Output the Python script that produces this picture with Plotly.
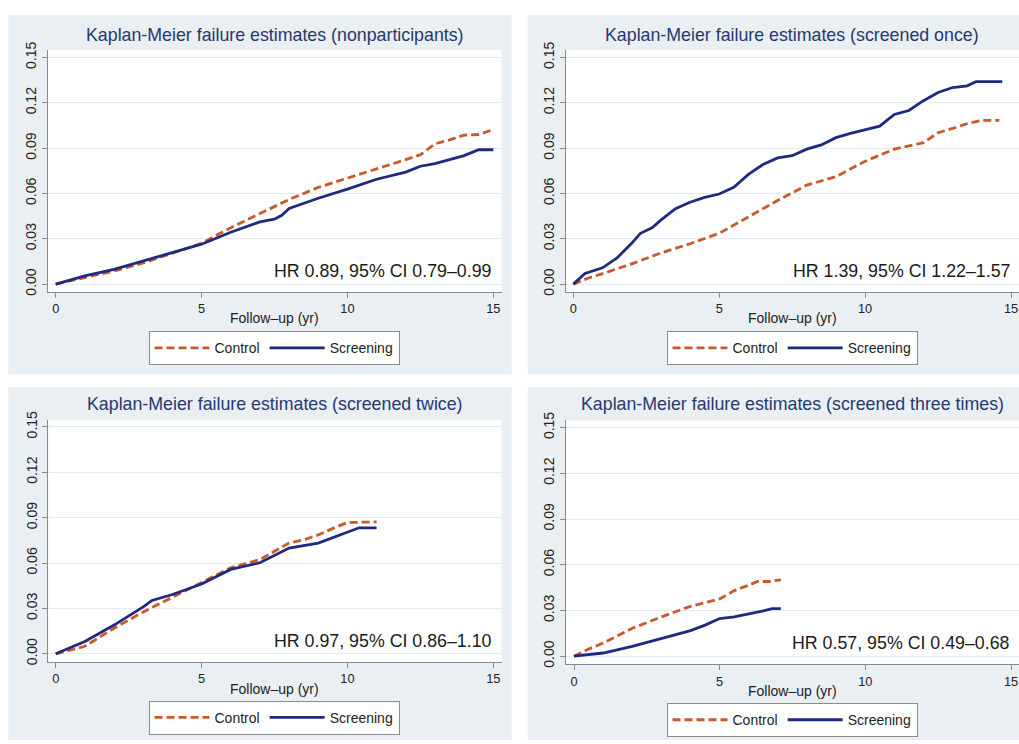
import plotly.graph_objects as go

W, H = 1019, 744

# ---- data: cumulative failure (Kaplan-Meier) by follow-up year ----
panel_titles = [
    "Kaplan-Meier failure estimates (nonparticipants)",
    "Kaplan-Meier failure estimates (screened once)",
    "Kaplan-Meier failure estimates (screened twice)",
    "Kaplan-Meier failure estimates (screened three times)",
]
hr_labels = [
    "HR 0.89, 95% CI 0.79\u20130.99",
    "HR 1.39, 95% CI 1.22\u20131.57",
    "HR 0.97, 95% CI 0.86\u20131.10",
    "HR 0.57, 95% CI 0.49\u20130.68",
]

nonpart_ctrl_t = [0, 1, 2, 3, 4, 5, 6, 7, 8, 9, 10, 11, 12, 12.5, 13, 13.5, 14, 14.5, 15]
nonpart_ctrl_f = [0, 0.0043, 0.0087, 0.014, 0.0206, 0.027, 0.0373, 0.0466, 0.056, 0.064,
                  0.070, 0.0763, 0.0824, 0.0856, 0.0928, 0.0954, 0.0986, 0.099, 0.1023]
nonpart_scr_t = [0, 1, 2, 3, 4, 5, 6, 7, 7.5, 7.75, 8, 9, 10, 11, 12, 12.5, 13, 14, 14.5, 15]
nonpart_scr_f = [0, 0.0054, 0.0098, 0.0152, 0.0206, 0.0264, 0.0343, 0.0412, 0.043, 0.0455,
                 0.050, 0.0568, 0.0629, 0.0694, 0.0741, 0.078, 0.0798, 0.085, 0.0889, 0.0889]

once_ctrl_t = [0, 0.5, 1, 2, 3, 4, 5, 6, 7, 8, 9, 10, 11, 12, 12.5, 13, 13.5, 14, 14.6]
once_ctrl_f = [0, 0.0039, 0.0069, 0.0134, 0.0206, 0.0267, 0.0336, 0.0444, 0.0553, 0.0655,
               0.0711, 0.0813, 0.0893, 0.0936, 0.1002, 0.103, 0.1062, 0.1084, 0.1084]
once_scr_t = [0, 0.4, 1, 1.5, 2, 2.3, 2.7, 3, 3.5, 4, 4.5, 5, 5.5, 6, 6.5, 7, 7.5, 8, 8.5,
              9, 9.5, 10, 10.5, 11, 11.5, 12, 12.5, 13, 13.5, 13.8, 14.7]
once_scr_f = [0, 0.007, 0.0108, 0.0173, 0.027, 0.0336, 0.0373, 0.0423, 0.0499, 0.0542,
              0.0574, 0.0596, 0.064, 0.0726, 0.0791, 0.0835, 0.085, 0.0893, 0.0921,
              0.0969, 0.0997, 0.1019, 0.1045, 0.1123, 0.1149, 0.1214, 0.1268, 0.1301,
              0.1312, 0.134, 0.134]

twice_ctrl_t = [0, 1, 2, 3, 4, 5, 6, 7, 8, 8.5, 9, 9.5, 10, 11]
twice_ctrl_f = [0, 0.005, 0.0169, 0.0277, 0.0374, 0.0472, 0.0569, 0.0623, 0.0732, 0.0753,
                0.0786, 0.0829, 0.0868, 0.0872]
twice_scr_t = [0, 1, 2, 3, 3.3, 4, 5, 6, 7, 8, 9, 9.5, 10, 10.4, 11]
twice_scr_f = [0, 0.0082, 0.019, 0.031, 0.0353, 0.0392, 0.0461, 0.0558, 0.0602, 0.0699,
               0.0732, 0.0768, 0.0801, 0.0833, 0.0833]

thrice_ctrl_t = [0, 0.5, 1, 2, 3, 4, 5, 5.5, 6, 6.3, 6.7, 7.1]
thrice_ctrl_f = [0, 0.0047, 0.0086, 0.0183, 0.0258, 0.0327, 0.0376, 0.043, 0.0466, 0.049,
                 0.049, 0.0501]
thrice_scr_t = [0, 1, 2, 3, 4, 4.5, 5, 5.5, 6, 6.5, 6.8, 7.1]
thrice_scr_f = [0, 0.0021, 0.0064, 0.0118, 0.0168, 0.0204, 0.0247, 0.0258, 0.0275, 0.0297,
                0.0312, 0.0312]

series = [
    (nonpart_ctrl_t, nonpart_ctrl_f, nonpart_scr_t, nonpart_scr_f),
    (once_ctrl_t, once_ctrl_f, once_scr_t, once_scr_f),
    (twice_ctrl_t, twice_ctrl_f, twice_scr_t, twice_scr_f),
    (thrice_ctrl_t, thrice_ctrl_f, thrice_scr_t, thrice_scr_f),
]

x_ticks = [0, 5, 10, 15]
y_ticks = [0, 0.03, 0.06, 0.09, 0.12, 0.15]

# ---- styling ----
FONT = "Liberation Sans, Arial, sans-serif"
CTRL_COLOR = "#c9582b"
SCR_COLOR = "#1e2a80"
PANEL_BG = "#e9eff2"
GRID = "#e4ebef"
AXIS = "#8a8a8a"
TITLE_COLOR = "#26396f"

# layout of each panel in pixels:
# panel box, plot box, pixel of x=0 / x=15, pixel of y=0 / y=0.15
panels = [
    dict(box=(8.3, 6, 511.7, 372), plot=(47.7, 41.7, 501.7, 288),
         x0=55.7, x15=493.3, y0=280, y15=49.3, title_y=26, legend=(274, 328)),
    dict(box=(527.7, 6, 1019, 372), plot=(566, 41.7, 1019, 288),
         x0=573.3, x15=1011.0, y0=280, y15=49.3, title_y=26, legend=(792, 328)),
    dict(box=(8.3, 385, 511.7, 744), plot=(48.3, 418, 501.7, 664.7),
         x0=55.7, x15=493.3, y0=656.3, y15=425.3, title_y=402, legend=(274, 704)),
    dict(box=(527.7, 385, 1019, 744), plot=(566, 418.7, 1019, 667),
         x0=574, x15=1011.0, y0=658.7, y15=426, title_y=402, legend=(792, 706.5)),
]


def px(x):
    return x / W


def py(y):
    return 1 - y / H


fig = go.Figure()
shapes = []
annotations = []
layout = {}

for i, (p, (ct, cf, st, sf)) in enumerate(zip(panels, series)):
    k = "" if i == 0 else str(i + 1)
    lg = "legend" + k
    xa, ya = "x" + k, "y" + k

    fig.add_trace(go.Scatter(
        x=ct, y=cf, mode="lines", name="Control", xaxis=xa, yaxis=ya, legend=lg,
        line=dict(color=CTRL_COLOR, width=2.8, dash="8px,4px")))
    fig.add_trace(go.Scatter(
        x=st, y=sf, mode="lines", name="Screening", xaxis=xa, yaxis=ya, legend=lg,
        line=dict(color=SCR_COLOR, width=2.8)))

    L, T, R, B = p["plot"]
    sx = (p["x15"] - p["x0"]) / 15.0
    sy = (p["y0"] - p["y15"]) / 0.15
    xr = [(L - p["x0"]) / sx, (R - p["x0"]) / sx]
    yr = [(p["y0"] - B) / sy, (p["y0"] - T) / sy]

    layout["xaxis" + k] = dict(
        domain=[px(L), px(R)], range=xr, anchor=ya, tickvals=x_ticks,
        showline=True, linecolor=AXIS, linewidth=1, ticks="outside", ticklen=5,
        tickcolor=AXIS, showgrid=False, zeroline=False,
        ticklabeloverflow="hide past domain",
        tickfont=dict(family=FONT, size=12.8, color="#222222"))
    layout["yaxis" + k] = dict(
        domain=[py(B), py(T)], range=yr, anchor=xa, tickvals=y_ticks,
        tickformat=".2f", tickangle=-90,
        showline=True, linecolor=AXIS, linewidth=1, ticks="outside", ticklen=5,
        tickcolor=AXIS, showgrid=True, gridcolor=GRID, gridwidth=1, zeroline=False,
        tickfont=dict(family=FONT, size=14, color="#222222"))

    bx0, by0, bx1, by1 = p["box"]
    shapes.append(dict(type="rect", xref="paper", yref="paper", layer="below",
                       x0=px(bx0), x1=px(bx1), y0=py(by1), y1=py(by0),
                       fillcolor=PANEL_BG, line=dict(width=0)))
    shapes.append(dict(type="rect", xref="paper", yref="paper", layer="below",
                       x0=px(L), x1=px(R), y0=py(B), y1=py(T),
                       fillcolor="white", line=dict(width=0)))

    cx = (p["x0"] + p["x15"]) / 2
    annotations.append(dict(text=panel_titles[i], xref="paper", yref="paper",
                            x=px(cx), y=py(p["title_y"]), xanchor="center",
                            yanchor="middle", showarrow=False,
                            font=dict(family=FONT, size=17.8, color=TITLE_COLOR)))
    annotations.append(dict(text="Follow\u2013up (yr)", xref="paper", yref="paper",
                            x=px(cx), y=py(B + 27), xanchor="center",
                            yanchor="middle", showarrow=False,
                            font=dict(family=FONT, size=14, color="#222222")))
    annotations.append(dict(text=hr_labels[i], xref=xa, yref=ya,
                            x=15.02, y=0.0085, xanchor="right", yanchor="middle",
                            showarrow=False,
                            font=dict(family=FONT, size=17.8, color="#1a1a1a")))

    lx, ly = p["legend"]
    layout[lg] = dict(
        x=px(lx), y=py(ly), xanchor="center", yanchor="top",
        orientation="h", bgcolor="white", bordercolor="#8c8c8c", borderwidth=1,
        font=dict(family=FONT, size=14, color="#222222"), itemwidth=55,
        tracegroupgap=0, traceorder="normal")

fig.update_layout(
    width=W, height=H, margin=dict(l=0, r=0, t=0, b=0),
    paper_bgcolor="white", plot_bgcolor="white",
    shapes=shapes, annotations=annotations, showlegend=True,
    **layout)

fig.write_html("out.html")
